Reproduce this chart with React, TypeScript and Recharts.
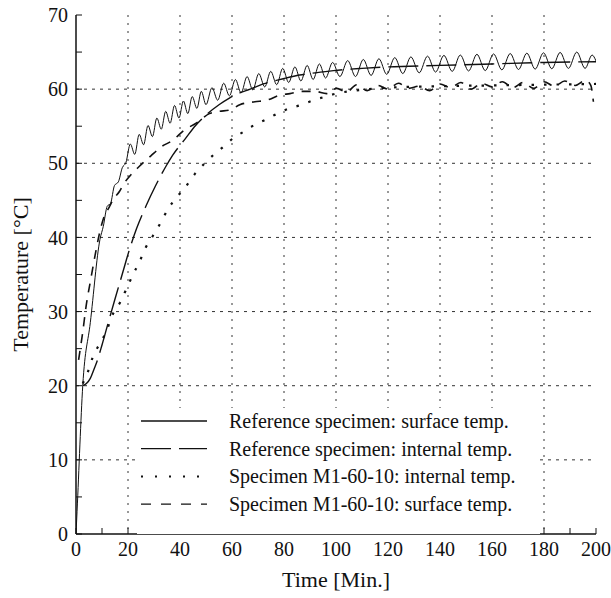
import React from "react";
import { LineChart, Line, XAxis, YAxis, CartesianGrid, Legend } from "recharts";

// Reference specimen: surface temp. (thin solid, oscillating)
const refSurfaceTime = [
  0, 0.4, 2.6, 5.5, 9.2, 10.5, 12.0, 13.3, 14.8, 16.3, 17.8, 19.2,
  20.9, 22.6, 24.3, 26.0, 27.7, 29.4, 31.1, 32.8, 34.5, 36.2, 37.9, 39.6,
  41.3, 43.0, 44.7, 46.5, 48.2, 50.0, 52.3, 54.5, 56.8, 59.0, 61.3, 63.5,
  65.8, 68.0, 70.3, 72.6, 74.9, 77.2, 79.5, 81.8, 84.2, 86.5, 88.9, 91.2,
  93.6, 96.0, 98.7, 101.5, 104.5, 107.5, 110.5, 113.5, 116.5, 119.5, 122.6,
  125.7, 128.8, 132.0, 135.2, 138.3, 141.5, 144.7, 147.8, 151.0, 154.2,
  157.4, 160.6, 163.8, 167.0, 170.2, 173.4, 176.6, 179.8, 183.0, 186.2,
  189.4, 192.6, 195.8, 198.5, 200,
];
const refSurfaceTemp = [
  0, 3, 20, 28.5, 39.7, 41.5, 44.2, 44.6, 47.0, 47.5, 49.4, 50.1,
  52.6, 51.2, 53.9, 52.5, 55.1, 53.6, 56.1, 54.6, 57.0, 55.4, 57.8, 56.1,
  58.4, 56.7, 59.0, 57.4, 59.7, 57.9, 60.2, 58.5, 60.8, 59.1, 61.3, 59.5,
  61.7, 59.9, 62.1, 60.3, 62.4, 60.6, 62.8, 60.9, 63.0, 61.1, 63.2, 61.3,
  63.4, 61.5, 63.6, 61.7, 63.85, 61.7, 64.0, 61.85, 64.1, 62.0, 64.25,
  62.1, 64.35, 62.2, 64.45, 62.3, 64.55, 62.4, 64.6, 62.45, 64.7,
  62.5, 64.75, 62.6, 64.8, 62.65, 64.85, 62.7, 64.9, 62.75, 64.95,
  62.8, 65.0, 62.8, 64.6, 63.8,
];

// Reference specimen: internal temp. (long dash)
const refInternalTime = [
  2.6, 4, 5.5, 7, 8, 10, 12, 15, 18, 20.5, 23.3, 27, 30.5, 34.6, 37.2, 42,
  46, 50.3, 55, 59, 63, 67, 72, 79.7, 86, 92, 99, 110, 120, 140, 160, 180, 200,
];
const refInternalTemp = [
  20, 20.3, 21, 22.3, 23.2, 25.5, 28, 31.7, 35.3, 38.3, 41.2, 44.3, 46.9, 49.6, 51.1, 53.3,
  55.1, 56.6, 57.9, 58.8, 59.5, 60.0, 60.7, 61.4, 61.9, 62.2, 62.5, 62.8, 63.0, 63.2, 63.4, 63.6, 63.7,
];

// Specimen M1-60-10: internal temp. (dotted)
const m1InternalTime = [
  2.6, 4.5, 6.4, 9, 11.8, 13.7, 16.9, 19.2, 21.8, 24.4, 26.9, 29.7, 32.6, 35.5,
  38.7, 42.3, 45.8, 49.2, 52.8, 56.9, 60.5, 64.7, 68.8, 73.1, 77.4, 81.3, 86.8,
  91.3, 96, 100, 110, 120, 140, 160, 180, 200,
];
const m1InternalTemp = [
  20.3, 21.8, 23.8, 25.6, 27.4, 29.3, 31.2, 32.9, 34.9, 36.7, 38.7, 40.3, 42, 43.9,
  45.4, 46.9, 48.6, 49.9, 51.1, 52.3, 53.4, 54.3, 55.2, 55.9, 56.7, 57.3, 57.9,
  58.5, 59.0, 59.4, 59.9, 60.2, 60.4, 60.5, 60.6, 60.7,
];

// Specimen M1-60-10: surface temp. (short dash)
const m1SurfaceTime = [
  1, 2.5, 4, 5.5, 7.3, 9, 10.5, 12.8, 14.5, 16.7, 18.5, 20.5, 24.4, 28.8, 32.7,
  37.2, 41.7, 46.2, 51.3, 55, 59.2, 63, 68.8, 73.3, 78.5, 82.3, 86.8, 91.9, 96.4,
  100.3, 104, 108, 112, 116, 120, 124, 128, 132, 136, 140, 144, 148, 152, 156,
  160, 164, 168, 172, 176, 180, 184, 188, 192, 196, 198, 199,
];
const m1SurfaceTemp = [
  23.5, 27, 31, 34, 37.5, 40.5, 42.5, 44.1, 45.2, 46.2, 47.3, 48.2, 49.6, 51, 52.2,
  53.1, 54.5, 55.4, 56.7, 57.0, 57.2, 57.9, 58.3, 58.5, 59.2, 59.4, 59.7, 59.7, 59.4,
  60.1, 59.6, 60.6, 59.8, 60.5, 60.0, 60.8, 60.1, 60.4, 59.8, 60.7, 60.2, 60.9, 60.0, 60.8,
  60.3, 61.0, 60.2, 60.9, 60.1, 61.0, 60.4, 61.1, 60.5, 61.2, 60.5, 58.3,
];

const xTicks = [0, 10, 20, 30, 40, 50, 60, 70, 80, 90, 100, 110, 120, 130, 140, 150, 160, 170, 180, 190, 200];
const yTicks = [0, 5, 10, 15, 20, 25, 30, 35, 40, 45, 50, 55, 60, 65, 70];
const xGrid = [20, 40, 60, 80, 100, 120, 140, 160, 180];
const yGrid = [10, 20, 30, 40, 50, 60];

const series = [
  { name: "Reference specimen: surface temp.", t: refSurfaceTime, v: refSurfaceTemp, dash: undefined, width: 1, legendDash: undefined },
  { name: "Reference specimen: internal temp.", t: refInternalTime, v: refInternalTemp, dash: "30 8", width: 1.4, legendDash: "30 8" },
  { name: "Specimen M1-60-10: internal temp.", t: m1InternalTime, v: m1InternalTemp, dash: "2.5 10", width: 2.2, legendDash: "2 12" },
  { name: "Specimen M1-60-10: surface temp.", t: m1SurfaceTime, v: m1SurfaceTemp, dash: "9 8", width: 1.6, legendDash: "10 10" },
];

const font = "'Liberation Serif', 'Times New Roman', serif";
const ink = "#111";

const zip = (ts: number[], vs: number[]) => ts.map((t, i) => ({ time: t, temp: vs[i] }));

function LegendBox() {
  return (
    <svg width={403} height={126}>
      {series.map((s, i) => {
        const y = 13 + i * 27.7;
        return (
          <g key={s.name}>
            <line x1={4} x2={70} y1={y} y2={y} stroke={ink} strokeWidth={i === 2 ? 2 : 1.3}
              strokeDasharray={s.legendDash} />
            <text x={92} y={y} dy="0.35em" fontFamily={font} fontSize={20} fill={ink}>{s.name}</text>
          </g>
        );
      })}
    </svg>
  );
}

export default function App() {
  const tickStyle = { fill: ink, fontSize: 20, fontFamily: font };
  return (
    <div style={{ position: "absolute", left: 0, top: 0, background: "#fff" }}>
      <LineChart width={611} height={598} margin={{ top: 15, right: 15, bottom: 0, left: 0 }}>
        <CartesianGrid horizontal={false} verticalValues={xGrid} stroke="#333" strokeDasharray="2 6" />
        <CartesianGrid vertical={false} horizontalValues={yGrid} stroke="#333" strokeDasharray="3 5" />
        <XAxis
          dataKey="time" type="number" domain={[0, 200]} ticks={xTicks} interval={0}
          tickFormatter={(v: number) => (v % 20 === 0 ? String(v) : "")}
          tickSize={-6} tickMargin={14} height={64}
          axisLine={{ stroke: ink, strokeWidth: 1.5 }} tickLine={{ stroke: ink }} tick={tickStyle}
          allowDataOverflow
          label={{ value: "Time [Min.]", position: "insideBottom", offset: 11, fill: ink, fontSize: 22, fontFamily: font }}
        />
        <XAxis
          xAxisId="top" orientation="top" type="number" domain={[0, 200]} ticks={xTicks} interval={0}
          tickFormatter={() => ""} tickSize={-6} height={0}
          axisLine={{ stroke: ink, strokeWidth: 1.5 }} tickLine={{ stroke: ink }} allowDataOverflow
        />
        <YAxis
          type="number" domain={[0, 70]} ticks={yTicks} interval={0}
          tickFormatter={(v: number) => (v % 10 === 0 ? String(v) : "")}
          tickSize={-6} tickMargin={14} width={76}
          axisLine={{ stroke: ink, strokeWidth: 1.5 }} tickLine={{ stroke: ink }} tick={tickStyle}
          allowDataOverflow
          label={{ value: "Temperature [°C]", angle: -90, position: "insideLeft", offset: 20, fill: ink, fontSize: 22, fontFamily: font, style: { textAnchor: "middle" } }}
        />
        <YAxis
          yAxisId="right" orientation="right" type="number" domain={[0, 70]} ticks={yTicks} interval={0}
          tickFormatter={() => ""} tickSize={-6} width={0}
          axisLine={{ stroke: ink, strokeWidth: 1.5 }} tickLine={{ stroke: ink }} allowDataOverflow
        />
        {series.map((s) => (
          <Line
            key={s.name} name={s.name} data={zip(s.t, s.v)} dataKey="temp" type="monotone"
            stroke={ink} strokeWidth={s.width} strokeDasharray={s.dash} dot={false}
            isAnimationActive={false}
          />
        ))}
        <Legend
          layout="vertical" align="center" verticalAlign="middle"
          wrapperStyle={{ left: 137, top: 408, width: 403, height: 126, background: "#fff" }}
          content={() => <LegendBox />}
        />
      </LineChart>
    </div>
  );
}
